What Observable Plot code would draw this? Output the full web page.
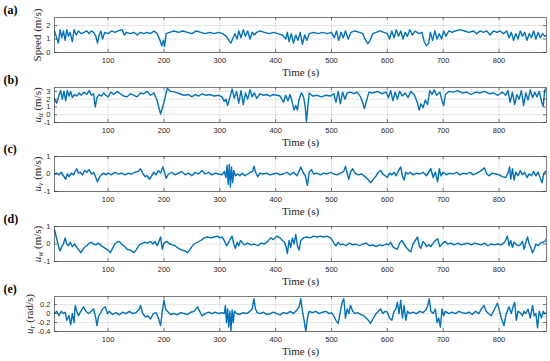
<!DOCTYPE html>
<html><head><meta charset="utf-8">
<script src="https://cdn.jsdelivr.net/npm/d3@7"></script>
<script src="https://cdn.jsdelivr.net/npm/@observablehq/plot@0.6"></script>
<style>
body{margin:0;background:#fff;}
#wrap{position:relative;width:550px;height:361px;overflow:hidden;}
#wrap svg{position:absolute;left:0;}
</style></head>
<body><div id="wrap"></div>
<script>
// x axis
const xDomain = [4, 885];
const xTicks = [100, 200, 300, 400, 500, 600, 700, 800];
const panelTags = ["(a)", "(b)", "(c)", "(d)", "(e)"];

// (a) Speed (m/s): [time, value]
const speed = [[4,1.6],[7,1.2],[11,0.7],[14,1.7],[17,1.1],[20,1.6],[23,0.9],[26,1.7],[29,1.2],[32,1.5],[36,0.8],[39,1.7],[43,1.3],[47,1.6],[52,1.4],[57,1.5],[62,1.6],[66,1.4],[70,1.6],[74,1.5],[78,1.2],[81,0.7],[84,1.3],[87,1.6],[90,1.0],[94,1.5],[100,1.4],[106,1.6],[112,1.5],[118,1.6],[125,1.7],[129,1.3],[133,1.5],[140,1.4],[146,1.5],[152,1.3],[158,1.5],[164,1.4],[170,1.5],[176,1.4],[182,1.6],[188,1.4],[193,0.9],[196,0.5],[199,0.9],[201,0.45],[204,1.4],[210,1.5],[218,1.6],[226,1.5],[234,1.6],[242,1.5],[250,1.4],[258,1.6],[266,1.5],[274,1.4],[282,1.5],[290,1.4],[298,1.5],[305,1.4],[312,1.2],[316,0.9],[320,0.7],[323,1.0],[327,1.4],[331,1.0],[334,1.6],[338,1.1],[342,1.7],[346,1.2],[350,1.6],[354,1.0],[358,1.5],[362,1.3],[366,1.5],[372,1.6],[380,1.5],[388,1.4],[396,1.5],[404,1.4],[412,1.3],[418,1.0],[421,1.5],[424,0.8],[428,1.4],[432,0.7],[436,1.3],[440,0.9],[444,1.5],[448,0.6],[452,1.3],[456,0.9],[460,1.4],[468,1.5],[476,1.4],[484,1.5],[492,1.4],[500,1.5],[505,1.1],[509,1.6],[513,0.9],[517,1.5],[521,1.1],[525,1.6],[530,1.0],[535,1.5],[542,1.6],[550,1.5],[556,1.4],[560,1.0],[565,0.65],[569,0.9],[574,1.4],[580,1.5],[587,1.6],[594,1.5],[600,1.4],[604,1.0],[608,1.6],[612,1.1],[616,1.7],[620,1.2],[624,1.6],[628,1.0],[632,1.5],[636,1.2],[640,1.7],[645,1.3],[650,1.6],[656,1.4],[662,1.5],[666,0.8],[670,0.5],[674,0.7],[677,1.5],[681,0.9],[685,1.6],[689,1.0],[693,1.4],[697,1.0],[701,1.6],[705,1.2],[710,1.6],[716,1.5],[722,1.6],[730,1.7],[738,1.6],[746,1.5],[754,1.6],[760,1.4],[766,1.6],[772,1.5],[778,1.6],[784,1.3],[790,1.6],[796,1.5],[802,1.6],[808,1.4],[814,1.6],[818,1.1],[822,1.5],[826,0.9],[830,1.4],[834,1.0],[838,1.6],[842,1.2],[846,1.5],[850,0.9],[854,1.4],[858,1.1],[862,1.6],[866,1.0],[870,1.5],[874,1.1],[878,1.4],[882,1.2],[885,1.3]];

// (b) u_u (m/s)
const uu = [[4,2.0],[8,1.5],[12,2.5],[15,3.1],[18,2.0],[21,3.0],[24,1.8],[27,3.1],[30,2.4],[33,3.0],[36,2.2],[40,2.6],[44,2.4],[48,2.8],[52,2.5],[57,2.9],[62,2.6],[66,3.1],[70,2.5],[74,2.7],[77,1.0],[80,2.2],[84,2.6],[88,2.4],[92,2.8],[96,2.5],[100,2.3],[105,2.9],[110,2.6],[116,3.0],[122,2.7],[128,2.4],[134,2.3],[140,2.7],[146,2.5],[152,2.3],[158,2.8],[164,2.7],[170,3.0],[176,2.5],[182,2.8],[187,2.0],[191,0.9],[194,0.1],[197,0.8],[200,1.6],[203,2.5],[206,3.4],[212,3.0],[220,2.9],[228,2.7],[236,2.5],[244,2.6],[250,2.3],[256,2.6],[262,2.4],[268,2.7],[275,2.5],[282,2.6],[290,2.4],[298,2.5],[304,2.3],[308,1.7],[311,2.0],[314,1.2],[318,2.2],[322,3.3],[326,2.1],[330,3.0],[334,1.5],[338,3.1],[342,1.3],[346,2.8],[350,2.0],[354,3.2],[358,2.3],[362,2.8],[366,2.1],[372,2.7],[378,2.5],[384,2.6],[390,2.4],[396,2.6],[402,2.5],[408,2.4],[414,1.6],[418,2.5],[422,1.8],[426,2.6],[430,1.5],[433,0.6],[436,1.2],[439,0.6],[442,2.0],[446,2.8],[450,2.3],[453,1.0],[455,-0.9],[457,0.5],[460,2.8],[466,2.4],[474,2.5],[482,2.3],[490,2.5],[498,2.4],[504,2.7],[508,1.6],[512,3.0],[516,1.4],[520,2.9],[524,2.0],[528,2.8],[534,2.9],[540,2.7],[546,2.9],[552,2.3],[556,1.5],[559,0.8],[562,1.6],[567,2.9],[574,2.8],[582,3.0],[590,2.7],[598,2.9],[602,2.2],[606,3.1],[610,1.8],[614,2.9],[618,2.0],[622,3.0],[627,2.4],[632,2.8],[637,2.2],[642,3.0],[648,2.6],[654,1.5],[657,0.6],[660,1.4],[664,0.9],[668,1.9],[672,1.3],[676,3.1],[680,2.6],[684,3.2],[688,2.5],[694,2.9],[698,1.8],[701,1.2],[704,2.6],[710,3.0],[718,2.9],[726,3.1],[734,2.8],[742,2.9],[750,2.6],[758,2.9],[766,2.8],[774,3.0],[782,2.7],[790,2.8],[798,2.5],[806,2.9],[812,2.5],[816,3.1],[820,1.6],[824,2.9],[828,1.3],[832,2.6],[836,2.0],[840,3.1],[844,1.2],[848,2.8],[852,1.9],[856,3.2],[860,2.2],[864,2.9],[868,2.3],[872,3.0],[876,1.7],[879,1.1],[882,3.2],[885,3.4]];

// (c) u_v (m/s)
const uv = [[4,0.0],[8,0.05],[12,-0.05],[16,0.1],[20,-0.1],[24,-0.3],[27,0.0],[30,-0.15],[34,0.05],[38,-0.05],[41,0.15],[44,0.3],[47,0.05],[50,0.1],[54,-0.05],[58,0.2],[62,0.1],[66,0.25],[70,0.0],[74,0.1],[78,-0.2],[81,-0.45],[84,-0.2],[88,-0.05],[92,0.05],[96,-0.05],[100,0.05],[106,-0.05],[112,0.1],[118,0.0],[124,0.05],[130,-0.05],[136,0.05],[142,0.0],[148,0.1],[154,0.15],[158,0.3],[162,0.05],[166,-0.15],[170,-0.1],[174,-0.3],[178,-0.1],[182,0.1],[186,-0.05],[190,0.2],[194,0.05],[198,0.4],[201,0.1],[204,-0.25],[208,0.0],[214,0.1],[220,-0.05],[226,0.05],[232,0.15],[238,-0.05],[244,0.05],[250,-0.1],[256,0.1],[262,0.0],[268,0.2],[274,0.0],[280,0.1],[286,-0.05],[292,0.05],[298,0.0],[304,-0.05],[308,0.15],[311,-0.2],[313,0.5],[315,-0.6],[317,0.55],[319,-0.75],[321,0.4],[323,-0.5],[325,0.2],[328,-0.1],[332,0.0],[336,-0.1],[340,0.05],[345,-0.1],[350,0.0],[355,0.1],[359,0.15],[361,0.45],[364,0.1],[368,-0.15],[372,0.05],[378,0.0],[384,0.05],[390,-0.05],[396,0.0],[402,0.05],[408,-0.05],[414,0.0],[420,0.1],[426,-0.05],[432,0.1],[438,-0.1],[442,0.15],[445,0.4],[449,0.1],[453,-0.1],[457,-0.65],[460,0.1],[464,0.25],[468,0.0],[474,0.05],[480,-0.05],[486,0.05],[492,0.0],[498,0.1],[504,0.0],[510,-0.05],[516,0.05],[522,0.15],[525,0.45],[528,0.05],[531,-0.3],[534,0.1],[538,0.3],[542,0.05],[548,-0.05],[554,0.0],[560,-0.15],[565,-0.3],[570,-0.5],[575,-0.3],[580,-0.1],[584,0.1],[588,0.2],[592,0.0],[596,-0.1],[600,-0.2],[604,0.05],[608,-0.05],[612,0.1],[616,-0.1],[620,0.2],[624,0.4],[627,-0.1],[630,-0.35],[633,0.1],[637,0.0],[641,0.1],[646,-0.05],[652,0.05],[658,0.0],[664,0.1],[670,-0.1],[674,0.1],[678,0.3],[682,-0.2],[686,0.1],[690,-0.45],[693,0.3],[696,-0.1],[700,0.1],[706,-0.05],[712,0.05],[718,0.0],[724,0.1],[730,-0.05],[736,0.05],[742,0.0],[748,0.1],[754,-0.05],[760,0.05],[766,0.15],[770,0.25],[774,0.35],[778,0.0],[782,-0.1],[788,0.05],[794,0.0],[800,-0.05],[806,-0.15],[812,-0.2],[816,0.05],[819,0.4],[821,-0.3],[824,0.3],[827,-0.35],[830,0.1],[834,-0.1],[838,0.2],[842,-0.05],[846,0.1],[850,-0.2],[854,0.0],[858,-0.1],[862,0.15],[866,-0.1],[870,0.1],[874,-0.25],[877,-0.5],[880,0.0],[883,0.15],[885,0.1]];

// (d) u_w (m/s)
const uw = [[4,0.8],[8,0.3],[11,-0.1],[14,-0.4],[17,-0.15],[20,0.0],[23,0.35],[26,0.0],[29,-0.1],[32,0.1],[36,-0.15],[40,0.0],[44,-0.2],[48,-0.35],[51,-0.5],[55,-0.3],[59,-0.15],[62,-0.1],[66,0.05],[70,0.1],[74,0.0],[78,-0.05],[82,0.05],[86,-0.05],[90,-0.15],[95,-0.25],[100,-0.35],[104,-0.5],[108,-0.25],[112,0.0],[116,0.1],[120,0.15],[124,0.0],[130,-0.15],[134,-0.3],[140,-0.35],[146,-0.5],[150,-0.35],[156,-0.05],[162,0.05],[166,0.1],[170,0.05],[176,0.15],[180,0.0],[184,0.15],[188,-0.1],[191,0.15],[194,0.4],[197,-0.3],[200,0.05],[205,0.15],[210,0.0],[215,-0.05],[220,-0.1],[226,-0.25],[232,-0.35],[238,-0.4],[242,-0.5],[246,-0.35],[250,-0.15],[254,0.0],[260,0.1],[266,0.2],[272,0.35],[278,0.4],[284,0.35],[290,0.4],[296,0.45],[300,0.35],[304,0.4],[308,0.2],[312,-0.1],[316,0.1],[319,0.3],[322,0.45],[325,0.0],[328,-0.25],[331,0.1],[334,-0.1],[337,0.2],[340,0.1],[344,-0.05],[350,0.05],[356,-0.05],[362,0.0],[368,-0.1],[374,0.05],[380,0.0],[386,0.15],[391,0.35],[396,0.25],[402,0.45],[408,0.35],[412,0.2],[416,0.1],[419,-0.2],[421,-0.55],[424,0.2],[427,-0.2],[430,0.35],[433,0.0],[436,0.55],[439,-0.1],[442,-0.35],[445,0.2],[450,0.35],[456,0.4],[462,0.35],[468,0.45],[474,0.4],[480,0.45],[486,0.4],[492,0.45],[498,0.35],[502,0.2],[505,0.0],[508,-0.1],[512,0.1],[516,-0.05],[520,0.0],[526,-0.1],[532,0.05],[538,-0.05],[544,0.0],[550,-0.1],[556,0.0],[562,0.05],[568,-0.1],[574,-0.05],[580,-0.15],[586,-0.05],[592,-0.1],[598,0.0],[602,-0.05],[606,0.1],[610,-0.15],[614,-0.25],[618,-0.3],[622,0.05],[626,0.2],[630,0.0],[634,-0.2],[638,-0.35],[642,-0.45],[646,0.0],[650,0.2],[654,0.4],[657,-0.1],[660,-0.25],[664,0.15],[667,0.05],[670,-0.15],[674,-0.05],[678,-0.15],[682,0.05],[686,0.2],[690,0.3],[694,-0.15],[698,0.0],[703,0.15],[708,0.0],[714,0.05],[720,-0.05],[726,0.05],[732,-0.05],[738,0.0],[744,0.05],[750,-0.05],[756,0.05],[762,0.0],[768,-0.05],[774,0.05],[780,-0.1],[786,0.0],[792,-0.05],[798,0.0],[804,-0.05],[810,0.1],[813,0.3],[815,0.45],[818,-0.1],[821,0.2],[824,-0.2],[827,0.1],[830,0.0],[834,-0.1],[838,-0.05],[842,0.15],[845,-0.3],[848,0.1],[851,0.4],[854,0.0],[857,-0.2],[860,-0.5],[863,-0.3],[866,0.0],[870,-0.1],[874,0.05],[878,0.1],[882,0.15],[885,0.3]];

// (e) u_r (rad/s)
const ur = [[4,0.0],[8,0.05],[12,-0.05],[16,0.05],[20,0.0],[23,0.03],[26,-0.15],[30,-0.05],[33,-0.25],[36,0.0],[39,-0.2],[41,0.18],[44,0.05],[47,-0.05],[51,0.05],[56,0.15],[60,0.05],[65,0.0],[70,0.05],[74,0.1],[78,-0.1],[80,-0.27],[83,-0.05],[86,0.0],[90,0.1],[95,0.15],[99,0.0],[102,0.05],[108,-0.02],[114,0.02],[120,-0.03],[126,0.03],[132,0.0],[138,0.05],[144,0.0],[150,0.02],[156,0.1],[158,0.18],[162,0.0],[167,-0.08],[171,-0.05],[176,-0.12],[181,0.0],[186,0.02],[190,-0.1],[194,-0.27],[197,0.05],[200,0.3],[203,0.1],[206,0.05],[212,-0.02],[218,0.0],[224,-0.03],[230,0.02],[236,0.0],[242,-0.02],[248,0.03],[254,0.05],[260,0.15],[264,0.05],[268,-0.05],[274,0.0],[280,0.03],[286,0.0],[292,0.03],[298,0.0],[304,0.02],[308,0.0],[310,0.18],[312,-0.2],[314,0.1],[316,-0.3],[318,0.05],[320,-0.38],[322,0.08],[324,-0.2],[326,0.05],[330,0.0],[336,-0.02],[342,0.02],[348,0.0],[354,0.05],[358,0.1],[361,0.33],[364,0.1],[367,0.02],[372,0.0],[378,0.03],[384,-0.02],[390,0.0],[396,0.03],[402,0.0],[408,-0.03],[414,0.02],[420,0.0],[426,0.05],[432,0.0],[438,0.08],[442,0.15],[445,0.33],[448,0.05],[451,-0.15],[454,-0.4],[457,-0.1],[460,0.05],[466,0.02],[472,0.05],[478,0.0],[484,0.03],[490,0.05],[496,0.0],[500,0.02],[504,-0.05],[508,-0.15],[512,-0.22],[516,0.05],[519,0.25],[522,0.33],[525,-0.1],[528,0.1],[531,0.0],[534,0.18],[538,0.05],[542,0.0],[546,0.02],[552,-0.02],[558,-0.05],[564,-0.12],[570,-0.22],[575,-0.1],[580,0.0],[584,0.05],[588,0.1],[592,0.0],[596,0.05],[600,0.03],[604,-0.1],[608,-0.15],[612,0.05],[615,0.1],[618,0.25],[621,0.0],[624,0.3],[627,-0.1],[630,0.18],[633,-0.15],[636,0.05],[640,0.0],[646,0.03],[652,0.0],[658,0.05],[664,0.02],[670,0.1],[673,0.2],[675,0.33],[678,0.05],[682,0.0],[686,0.1],[689,-0.2],[692,-0.1],[695,-0.3],[698,0.1],[701,-0.05],[704,0.05],[710,0.0],[716,0.03],[722,0.0],[728,0.05],[734,0.02],[740,0.0],[746,0.03],[752,-0.02],[758,0.05],[764,0.0],[768,0.1],[773,0.18],[777,0.05],[781,0.0],[786,-0.05],[790,0.05],[794,0.15],[797,0.23],[800,0.1],[804,-0.1],[809,-0.27],[812,-0.05],[816,0.1],[818,0.15],[822,0.0],[825,0.15],[828,0.25],[831,-0.15],[834,0.05],[838,0.02],[842,-0.05],[845,0.05],[848,0.0],[852,0.1],[856,-0.1],[860,0.18],[863,-0.05],[866,0.0],[869,-0.32],[872,0.05],[876,-0.1],[879,0.05],[882,0.0],[885,0.02]];

// y axes
const yDomains = [[0, 2.6], [-1, 3.5], [-1, 1], [-1, 1], [-0.4, 0.38]];
const yTicks = [[0, 1, 2], [-1, 0, 1, 2, 3], [-1, 0, 1], [-1, 0, 1], [-0.4, -0.2, 0, 0.2]];
const yLabels = [
  {plain: "Speed (m/s)"},
  {sym: "u", sub: "u", unit: " (m/s)"},
  {sym: "u", sub: "v", unit: " (m/s)"},
  {sym: "u", sub: "w", unit: " (m/s)"},
  {sym: "u", sub: "r", unit: " (rad/s)"}
];
const series = [speed, uu, uv, uw, ur];
const tops = [0, 70, 139, 209, 279];
const ylabOffsets = [-17, -17, -17, -17, -25];

const serif = "'Liberation Serif', 'DejaVu Serif', serif";
const sans = "'Liberation Sans', Arial, sans-serif";
const W = 550, ML = 54, MR = 4, MT = 17, FH = 35, MB = 20;
const FW = W - ML - MR;
const wrap = document.getElementById("wrap");

series.forEach((data, i) => {
  const lab = yLabels[i];
  const plainText = lab.plain ? lab.plain : lab.sym + lab.sub + lab.unit;
  const svg = Plot.plot({
    width: W, height: MT + FH + MB,
    marginLeft: ML, marginRight: MR, marginTop: MT, marginBottom: MB,
    x: {domain: xDomain},
    y: {domain: yDomains[i]},
    style: {overflow: "visible", fontFamily: sans, background: "transparent"},
    marks: [
      Plot.gridX(xTicks, {stroke: "#000", strokeOpacity: 0.13, strokeWidth: 0.8}),
      Plot.gridY(yTicks[i], {stroke: "#000", strokeOpacity: 0.13, strokeWidth: 0.8}),
      Plot.line(data, {x: d => d[0], y: d => d[1], stroke: "#0072BD", strokeWidth: 1.4, clip: true}),
      Plot.tickX(xTicks, {x: d => d, insetTop: FH - 3, stroke: "#262626", strokeWidth: 0.6}),
      Plot.tickX(xTicks, {x: d => d, insetBottom: FH - 3, stroke: "#262626", strokeWidth: 0.6}),
      Plot.tickY(yTicks[i], {y: d => d, insetRight: FW - 3, stroke: "#262626", strokeWidth: 0.6}),
      Plot.tickY(yTicks[i], {y: d => d, insetLeft: FW - 3, stroke: "#262626", strokeWidth: 0.6}),
      Plot.frame({stroke: "#262626", strokeOpacity: 0.75, strokeWidth: 0.8}),
      Plot.axisX(xTicks, {tickSize: 0, tickPadding: 5, fontSize: 7.5, label: null, fill: "#262626", tickFormat: d => String(d)}),
      Plot.axisY(yTicks[i], {tickSize: 0, tickPadding: 4, fontSize: 7.5, label: null, fill: "#262626", tickFormat: d => String(d)}),
      Plot.text(["Time (s)"], {frameAnchor: "bottom", lineAnchor: "middle", dy: 20, fontFamily: serif, fontSize: 11, fill: "#262626"}),
      Plot.text([plainText], {frameAnchor: "left", textAnchor: "middle", lineAnchor: "middle", rotate: -90, dx: ylabOffsets[i], fontFamily: serif, fontSize: 11, fill: "#262626", className: "ylab"}),
      Plot.text([panelTags[i]], {frameAnchor: "top-left", textAnchor: "start", lineAnchor: "middle", dx: -51, dy: -7, fontFamily: serif, fontWeight: "bold", fontSize: 12, fill: "#000"})
    ]
  });
  svg.style.top = tops[i] + "px";
  if (!lab.plain) {
    const t = d3.select(svg).select("g.ylab text");
    t.text(null);
    t.append("tspan").attr("font-style", "italic").text(lab.sym);
    t.append("tspan").attr("font-style", "italic").attr("font-size", 7.5).attr("dy", 2).text(lab.sub);
    t.append("tspan").attr("dy", -2).text(lab.unit);
  }
  wrap.appendChild(svg);
});
</script>
</body></html>
